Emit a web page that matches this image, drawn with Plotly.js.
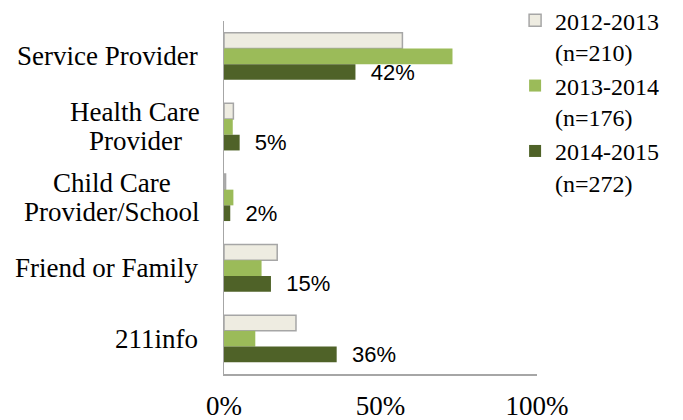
<!DOCTYPE html>
<html>
<head>
<meta charset="utf-8">
<script src="https://cdn.plot.ly/plotly-3.0.1.min.js"></script>
<style>html,body{margin:0;padding:0;background:#fff}#chart{width:683px;height:420px}</style>
</head>
<body>
<div id="chart"></div>
<script>
const categories = ["Service Provider", "Health Care Provider", "Child Care Provider/School", "Friend or Family", "211info"];
const categoryLabelLines = [["Service Provider"], ["Health Care", "Provider"], ["Child Care", "Provider/School"], ["Friend or Family"], ["211info"]];
const seriesNames = ["2012-2013<br>(n=210)", "2013-2014<br>(n=176)", "2014-2015<br>(n=272)"];
const values2012 = [0.57, 0.03, 0.005, 0.17, 0.23];
const values2013 = [0.73, 0.028, 0.03, 0.12, 0.10];
const values2014 = [0.42, 0.05, 0.02, 0.15, 0.36];
const xTicks = [0, 0.5, 1];
const xTickLabels = ["0%", "50%", "100%"];

const serif = "Liberation Serif, Times New Roman, serif";
const sans = "Liberation Sans, Arial, sans-serif";

const traces = [
  {type: "bar", orientation: "h", name: seriesNames[0], y: categories, x: values2012,
   marker: {color: "#EEECE1", line: {color: "#A6A6A6", width: 1.5}}, hoverinfo: "x"},
  {type: "bar", orientation: "h", name: seriesNames[1], y: categories, x: values2013,
   marker: {color: "#9BBB59", line: {width: 0}}, hoverinfo: "x"},
  {type: "bar", orientation: "h", name: seriesNames[2], y: categories, x: values2014,
   marker: {color: "#4F6228", line: {width: 0}}, hoverinfo: "x",
   texttemplate: "\u00a0\u00a0%{x:.0%}", textposition: "outside", constraintext: "none",
   cliponaxis: false, textfont: {family: sans, size: 22, color: "#000"}}
];

const lineGap = 29;
const annotations = [];
categories.forEach((c, i) => {
  const lines = categoryLabelLines[i];
  const n = lines.length;
  lines.forEach((ln, j) => {
    annotations.push({
      xref: "paper", yref: "y", x: 0, y: c, xanchor: n > 1 ? "center" : "right", yanchor: "middle",
      xshift: -24, yshift: -(j - (n - 1) / 2) * lineGap,
      text: ln, showarrow: false, align: "center",
      font: {family: serif, size: 27, color: "#000"}
    });
  });
});

const layout = {
  width: 683, height: 420,
  margin: {l: 224, r: 146, t: 21, b: 46, pad: 0, autoexpand: false},
  paper_bgcolor: "#fff", plot_bgcolor: "#fff",
  barmode: "group", bargap: 0.333, bargroupgap: 0,
  showlegend: true,
  legend: {x: 0.93, y: 1.065, xanchor: "left", yanchor: "top", valign: "top",
    font: {family: serif, size: 24, color: "#000"}, bgcolor: "rgba(0,0,0,0)",
    traceorder: "normal", itemwidth: 30, tracegroupgap: 0},
  xaxis: {range: [0, 1], tickvals: xTicks, ticktext: xTickLabels, showgrid: false,
    zeroline: false, showline: true, linecolor: "#A6A6A6", linewidth: 1.5,
    ticks: "", ticklabelstandoff: 7, tickfont: {family: serif, size: 27, color: "#000"}},
  yaxis: {autorange: "reversed", showticklabels: false, showgrid: false, zeroline: false,
    showline: true, linecolor: "#A6A6A6", linewidth: 1.5, ticks: ""},
  annotations: annotations
};

Plotly.newPlot("chart", traces, layout, {displayModeBar: false, staticPlot: true}).then(gd => {
  // multi-line labels: center each line within a block whose right edge sits at the label margin
  const groups = {};
  gd.layout.annotations.forEach((a, k) => {
    if (a.xanchor === "center") { (groups[a.y] = groups[a.y] || []).push(k); }
  });
  const nodes = gd.querySelectorAll(".annotation");
  const updates = {};
  Object.keys(groups).forEach(y => {
    const idx = groups[y];
    const widths = idx.map(k => nodes[k].querySelector("text").getBBox().width);
    const maxW = Math.max.apply(null, widths);
    idx.forEach(k => { updates["annotations[" + k + "].xshift"] = -24 - maxW / 2; });
  });
  return Plotly.relayout(gd, updates);
});
</script>
</body>
</html>
